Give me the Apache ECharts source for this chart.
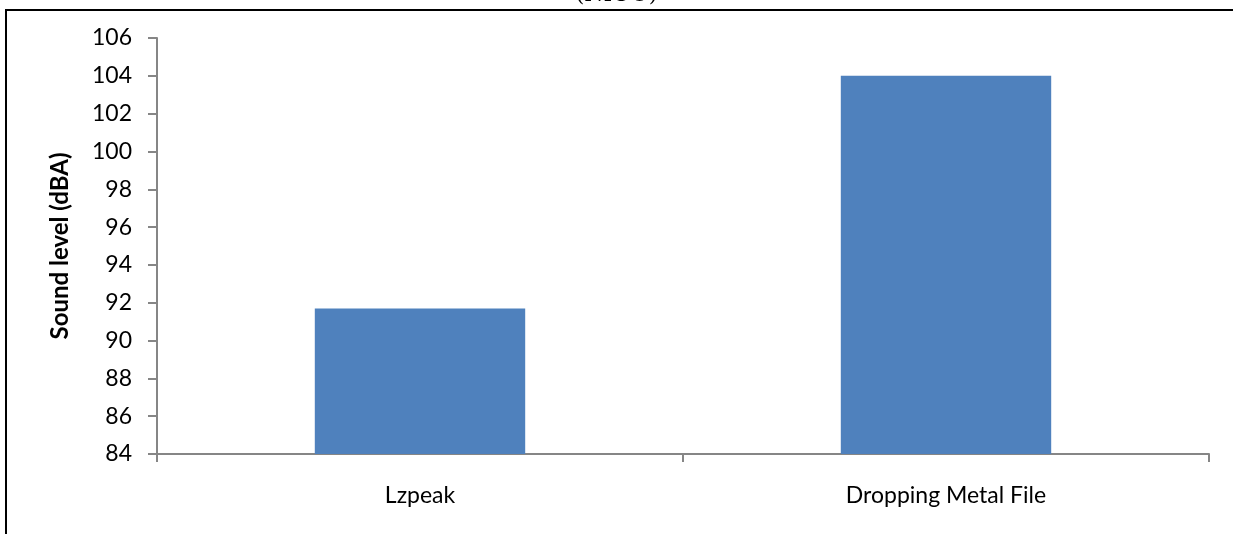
<!DOCTYPE html>
<html>
<head>
<meta charset="utf-8">
<script src="https://cdn.jsdelivr.net/npm/echarts@6/dist/echarts.min.js"></script>
<style>
  html, body { margin: 0; padding: 0; background: #ffffff; }
  #chart { width: 1233px; height: 534px; }
</style>
</head>
<body>
<div id="chart"></div>
<script>
// Peak sound levels by source
const categories = ['Lzpeak', 'Dropping Metal File'];
const soundLevels = [91.7, 104.0];
const yTicks = { min: 84, max: 106, interval: 2 };
const headingText = '(NIOU)';
const yAxisTitle = 'Sound level (dBA)';

const chart = echarts.init(document.getElementById('chart'), null, { renderer: 'canvas' });

const axisGray = '#868686';
const labelFont = 'Lato, "Open Sans", sans-serif';

chart.setOption({
  animation: false,
  backgroundColor: '#ffffff',
  grid: { left: 157, right: 24, top: 38, bottom: 80, containLabel: false },
  xAxis: {
    type: 'category',
    data: categories,
    boundaryGap: true,
    axisLine: { lineStyle: { color: axisGray, width: 2 } },
    axisTick: { show: true, length: 8, alignWithLabel: false, lineStyle: { color: axisGray, width: 2 } },
    axisLabel: { color: '#000000', fontFamily: labelFont, fontSize: 23, margin: 30 },
    splitLine: { show: false }
  },
  yAxis: {
    type: 'value',
    min: yTicks.min,
    max: yTicks.max,
    interval: yTicks.interval,
    name: yAxisTitle,
    nameLocation: 'middle',
    nameRotate: 90,
    nameGap: 85,
    nameTextStyle: { color: '#000000', fontFamily: labelFont, fontSize: 24, fontWeight: 'bold' },
    axisLine: { show: true, lineStyle: { color: axisGray, width: 2 } },
    axisTick: { show: true, length: 9, lineStyle: { color: axisGray, width: 2 } },
    axisLabel: { color: '#000000', fontFamily: labelFont, fontSize: 23, margin: 25 },
    splitLine: { show: false }
  },
  series: [{
    type: 'bar',
    data: soundLevels,
    barWidth: '40%',
    itemStyle: { color: '#4F81BD' }
  }],
  graphic: [
    {
      type: 'text',
      left: 'center',
      top: -16,
      style: { text: headingText, font: '22px "DejaVu Serif", "Liberation Serif", serif', fill: '#000000' },
      z: 1
    },
    {
      type: 'line',
      shape: { x1: 5, y1: 10, x2: 1233, y2: 10 },
      style: { stroke: '#000000', lineWidth: 2 },
      z: 10
    },
    {
      type: 'line',
      shape: { x1: 6, y1: 9, x2: 6, y2: 534 },
      style: { stroke: '#000000', lineWidth: 2 },
      z: 10
    }
  ]
});
</script>
</body>
</html>
